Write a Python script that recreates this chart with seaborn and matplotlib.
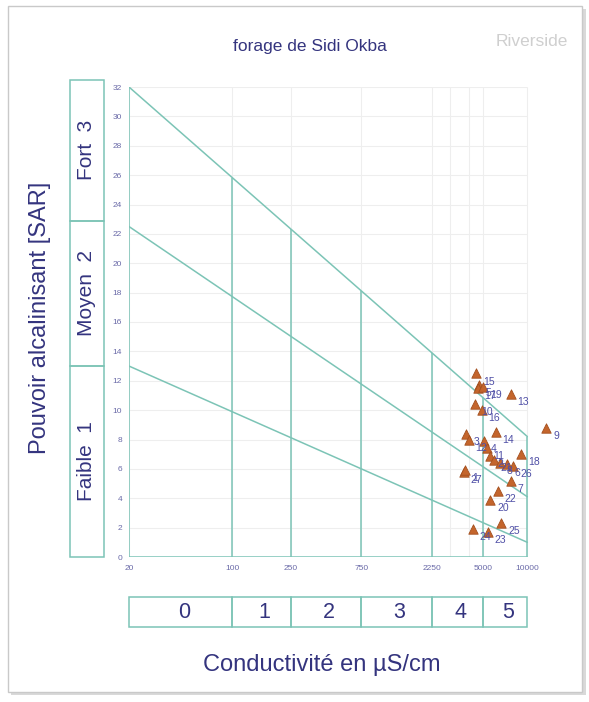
import numpy as np
import pandas as pd
import matplotlib
matplotlib.use("Agg")
import matplotlib.pyplot as plt
from matplotlib.patches import Rectangle
import seaborn as sns

# ---------------- data ----------------
sample_ids = ["15", "5", "17", "19", "13", "10", "16", "9", "3", "12", "14", "4",
              "11", "2", "18", "21", "8", "6", "26", "27", "1", "7", "22", "20",
              "24", "23", "25"]
conductivity = [4480, 4700, 4600, 5000, 7700, 4400, 4900, 13400, 3870, 4000, 6100, 5100,
                5300, 5600, 9100, 5900, 6500, 7300, 8000, 3700, 3800, 7700, 6300, 5600,
                4260, 5400, 6640]
sar = [12.5, 11.7, 11.5, 11.6, 11.1, 10.4, 10.0, 8.8, 8.4, 8.0, 8.5, 7.9,
       7.4, 6.9, 7.0, 6.6, 6.4, 6.3, 6.2, 5.8, 5.9, 5.2, 4.5, 3.9,
       1.9, 1.7, 2.3]

# class boundary lines (conductivity, SAR) endpoints
line_ec = [20, 10000]
line_top = [32.0, 8.2]
line_mid = [22.5, 4.1]
line_low = [13.0, 1.0]

# conductivity class limits and the SAR of the top line at each limit
ec_limits = [20, 100, 250, 750, 2250, 5000, 10000]
ec_tick_labels = ["20", "100", "250", "750", "2250", "5000", "10000"]
limit_tops = [32.0, 25.8, 22.3, 18.1, 13.9, 10.8, 8.2]
ec_classes = ["0", "1", "2", "3", "4", "5"]

sar_ticks = list(range(0, 33, 2))
sar_class_limits = [0, 13.0, 22.9, 32.5]
sar_class_labels = ["Faible  1", "Moyen  2", "Fort  3"]

df = pd.DataFrame({"ec": conductivity, "sar": sar, "id": sample_ids})

# ---------------- style ----------------
sns.set_theme(style="white")
plt.rcParams["font.family"] = ["Liberation Sans", "DejaVu Sans"]

W, H = 589, 702
fig = plt.figure(figsize=(W / 100, H / 100), dpi=100)
fig.patch.set_facecolor("white")

teal = "#7cc4b6"
navy = "#34347e"
tick_col = "#6a6aa8"
grid_col = "#eeeeee"

def fx(px):
    return px / W

def fy(py):
    return 1 - py / H

# background axes holding the outer frame with shadow
bg = fig.add_axes([0, 0, 1, 1], zorder=-10)
bg.set_xlim(0, W)
bg.set_ylim(H, 0)
bg.axis("off")
bg.add_patch(Rectangle((11, 9), 575, 686, facecolor="#d9d9d9", edgecolor="none"))
bg.add_patch(Rectangle((8, 6), 574, 686, facecolor="white", edgecolor="#c9c9c9", lw=1.0))

# main axes
x_left_px, x_right_px = 129, 565
xmax = 18000
ax = fig.add_axes([fx(x_left_px), fy(557), fx(x_right_px - x_left_px), 470 / H])
ax.set_xscale("log")
ax.set_xlim(20, xmax)
ax.set_ylim(0, 32)
ax.patch.set_alpha(0)
for s in ax.spines.values():
    s.set_visible(False)

# faint grid
ax.hlines(sar_ticks[1:], 20, 10000, color=grid_col, lw=0.8, zorder=0)
ax.vlines(ec_limits + [3000, 4000], 0, 32, color=grid_col, lw=0.8, zorder=0)

# frame lines
ax.plot([20, 20], [0, 32], color=teal, lw=1.1)
ax.plot([20, 10000], [0, 0], color=teal, lw=1.1)
ax.plot(line_ec, line_top, color=teal, lw=1.1)
ax.plot(line_ec, line_mid, color=teal, lw=1.1)
ax.plot(line_ec, line_low, color=teal, lw=1.1)
ax.vlines(ec_limits[1:], 0, limit_tops[1:], color=teal, lw=1.1)

# data points
sns.scatterplot(data=df, x="ec", y="sar", marker="^", s=46, color="#c4652c",
                edgecolor="#a34f1e", linewidth=0.6, ax=ax, zorder=5, clip_on=False)
for _, r in df.iterrows():
    ax.annotate(r["id"], (r["ec"], r["sar"]), xytext=(5, -8), textcoords="offset points",
                fontsize=7.5, color="#4f4fa6", zorder=6, annotation_clip=False)

ax.set_xticks(ec_limits)
ax.set_xticklabels(ec_tick_labels)
ax.xaxis.set_minor_locator(matplotlib.ticker.NullLocator())
ax.set_yticks(sar_ticks)
ax.tick_params(axis="both", labelsize=6, labelcolor=tick_col, colors="#cccccc",
               length=3, width=0.6, pad=2)
ax.tick_params(axis="x", length=0, pad=6)
ax.set_xlabel("")
ax.set_ylabel("")

# left SAR class boxes
axl = fig.add_axes([fx(70), fy(557), fx(34), 470 / H])
axl.set_xlim(0, 1)
axl.set_ylim(0, 32)
axl.axis("off")
for lo, hi, lab in zip(sar_class_limits[:-1], sar_class_limits[1:], sar_class_labels):
    axl.add_patch(Rectangle((0, lo), 1, hi - lo, facecolor="none", edgecolor=teal,
                            lw=1.1, clip_on=False))
    axl.text(0.5, (lo + hi) / 2, lab, rotation=90, ha="center", va="center",
             fontsize=15, color=navy, clip_on=False)

# bottom conductivity class boxes
axb = fig.add_axes([fx(x_left_px), fy(627), fx(x_right_px - x_left_px), 30 / H])
axb.set_xscale("log")
axb.set_xlim(20, xmax)
axb.set_ylim(0, 1)
axb.axis("off")
for lo, hi, lab in zip(ec_limits[:-1], ec_limits[1:], ec_classes):
    axb.add_patch(Rectangle((lo, 0), hi - lo, 1, facecolor="none", edgecolor=teal,
                            lw=1.1, clip_on=False))
    axb.text(np.sqrt(lo * hi) * 1.05, 0.5, lab, ha="center", va="center",
             fontsize=15.5, color=navy)

# texts
fig.text(fx(310), fy(47), "forage de Sidi Okba", ha="center", va="center",
         fontsize=12.5, color=navy)
fig.text(fx(532), fy(42), "Riverside", ha="center", va="center",
         fontsize=12.5, color="#cfcfcf")
fig.text(fx(40), fy(318), "Pouvoir alcalinisant [SAR]", rotation=90,
         ha="center", va="center", fontsize=17, color=navy)
fig.text(fx(322), fy(665), "Conductivité en µS/cm", ha="center", va="center",
         fontsize=17, color=navy)

fig.savefig("out.png", dpi=100)
